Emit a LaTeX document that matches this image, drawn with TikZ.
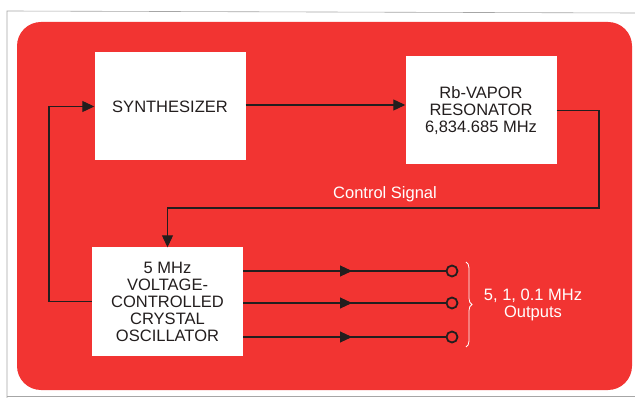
\documentclass[tikz,border=0pt]{standalone}
\usepackage{fontspec}
\setmainfont{Liberation Sans}
\usetikzlibrary{arrows.meta,decorations.pathreplacing,positioning}
\definecolor{panelred}{RGB}{242,52,50}
\definecolor{inkgray}{RGB}{35,30,30}

\begin{document}
\begin{tikzpicture}[x=1pt, y=-1pt,
  blockbox/.style={fill=white, rectangle, inner sep=0pt, align=center, minimum width=151pt, minimum height=108pt, text=inkgray, font=\fontsize{16.5}{17}\selectfont},
  wire/.style={draw=inkgray, line width=1.1pt},
  tip/.style={-{Triangle[length=12pt,width=11pt]}},
  port/.style={draw=inkgray, circle, line width=1.8pt, minimum size=11pt, inner sep=0pt},
  whitetext/.style={text=white, align=center, font=\fontsize{16.5}{17}\selectfont}]
  % Frame
  \useasboundingbox (0,0) rectangle (635,398);
  \fill[white] (0,0) rectangle (635,398);
  \draw[gray!70, line width=0.6pt] (7,398) -- (7,11) -- (635,13);
  \draw[gray!70, line width=0.6pt] (7,396) -- (635,396);
  \fill[panelred, rounded corners=24pt] (17,22) rectangle (632,390);

  % Nodes
  \node (synth) [blockbox] at (170,106.5) {SYNTHESIZER};
  \node (reso) [blockbox] at (481,110.5) {Rb-VAPOR\\RESONATOR\\6,834.685 MHz};
  \node (vco) [blockbox] at (167.5,301.5) {5 MHz\\VOLTAGE-\\CONTROLLED\\CRYSTAL\\OSCILLATOR};
  \coordinate (turn) at (599,208);
  \coordinate (fb) at (49,200);
  \node (o1) [port] at (452,271) {};
  \node (o2) [port] at (452,303) {};
  \node (o3) [port] at (452,337) {};
  \node (ctrl) [whitetext] at (385,194) {Control Signal};
  \node (outs) [whitetext] at (533,305) {5, 1, 0.1 MHz\\Outputs};

  % Edges
  \draw[wire, tip] ([yshift=1.5pt]synth.east) -- ([yshift=1.5pt]synth.east -| reso.west);
  \draw[wire, tip] (reso.east) -| (turn) -| (vco.north);
  \draw[wire, tip] (vco.west) -| (fb) |- (synth.west);
  \foreach \o in {o1,o2,o3}{
    \draw[wire, tip] (vco.east |- \o) -- ([xshift=-100pt]\o.center);
    \draw[wire] ([xshift=-102pt]\o.center) -- (\o);
  }
  \draw[white, line width=0.8pt, decorate, decoration={brace, amplitude=6pt}] (466,262) -- (466,347);
\end{tikzpicture}
\end{document}
